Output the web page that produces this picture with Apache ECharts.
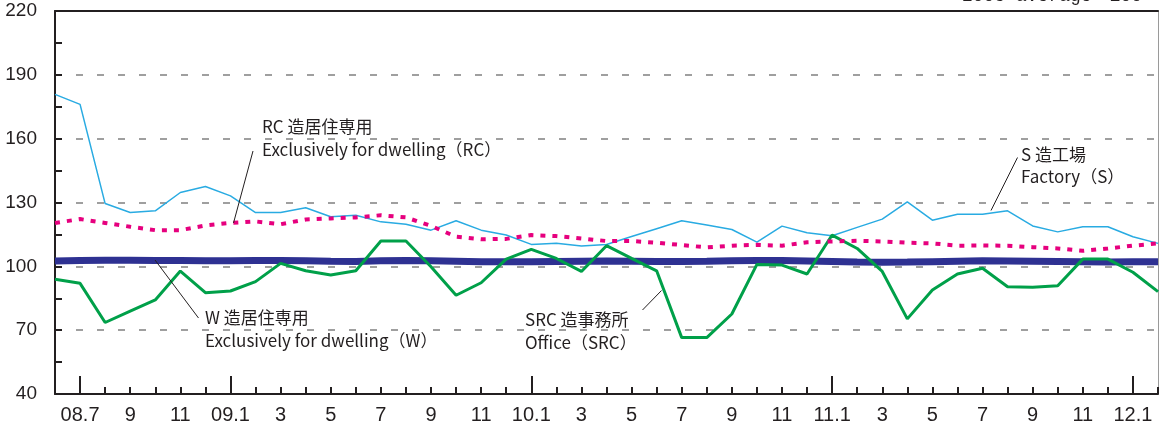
<!DOCTYPE html>
<html>
<head>
<meta charset="utf-8">
<script src="https://cdn.jsdelivr.net/npm/echarts@6/dist/echarts.min.js"></script>
<style>
html,body{margin:0;padding:0;background:#fff;}
#chart{width:1159px;height:429px;}
</style>
</head>
<body>
<div id="chart"></div>
<script>
// Month categories (first and last points sit on the plot borders)
const categories = ['08.6','08.7','8','9','10','11','12','09.1','2','3','4','5','6','7','8','9','10','11','12','10.1','2','3','4','5','6','7','8','9','10','11','12','11.1','2','3','4','5','6','7','8','9','10','11','12','12.1','2'];

// S 造工場 Factory (S)
const factoryS = [180.8,176.1,129.5,125.3,126.1,134.7,137.5,133.1,125.3,125.3,127.5,123.3,124.0,120.9,119.8,117.0,121.4,117.0,114.7,110.3,110.9,109.5,110.3,114.0,117.7,121.4,119.4,117.3,111.4,118.9,115.8,114.4,118.3,122.2,130.3,121.7,124.5,124.5,126.1,119.0,116.2,118.6,118.6,113.9,110.8];

// RC 造居住専用 Exclusively for dwelling (RC)
const dwellingRC = [120.4,122.2,120.4,118.6,117.0,117.0,119.2,120.4,121.1,119.8,122.0,122.5,123.0,124.0,123.0,119.0,113.9,112.7,112.9,114.7,114.2,113.1,111.9,111.9,111.1,110.0,108.9,109.7,110.1,109.7,111.3,111.7,112.0,111.7,111.1,110.8,109.7,109.8,109.7,109.0,108.4,107.3,108.4,109.7,110.8];

// W 造居住専用 Exclusively for dwelling (W)
const dwellingW = [102.5,102.7,102.9,102.9,102.8,102.7,102.6,102.6,102.7,102.8,102.6,102.4,102.3,102.6,102.7,102.6,102.4,102.2,102.1,102.2,102.3,102.4,102.5,102.4,102.3,102.3,102.4,102.6,102.8,102.7,102.5,102.3,102.0,101.9,102.0,102.2,102.4,102.6,102.5,102.4,102.3,102.1,102.0,102.1,102.2];

// SRC 造事務所 Office (SRC)
const officeSRC = [93.9,92.0,73.6,79.0,84.2,97.8,87.6,88.4,92.8,101.4,97.9,95.9,97.9,111.9,111.9,99.8,86.4,92.3,103.4,108.0,103.7,97.6,109.7,103.7,97.9,66.5,66.5,77.6,100.9,100.6,96.4,114.7,108.4,97.6,75.3,88.9,96.4,99.1,90.4,90.2,90.9,103.4,103.4,97.2,88.1];

// Y axis ticks
const yMin = 40, yMax = 220, yStep = 30;

const TXT = '#231F20';
const FONT_AX = '"Liberation Sans Narrow","Liberation Sans","Noto Sans",sans-serif';
const FONT_CJK = '"Noto Sans CJK JP","Noto Sans",sans-serif';

const chart = echarts.init(document.getElementById('chart'), null, {renderer:'canvas'});

function isJan(idx, val){ return idx > 0 && String(val).indexOf('.') >= 0; }

const option = {
  animation: false,
  backgroundColor: '#fff',
  grid: {left: 55, right: 1, top: 11, bottom: 35, show: false},
  xAxis: [
    {
      type: 'category', data: categories, boundaryGap: false, position: 'bottom',
      axisLine: {show: true, lineStyle: {color: '#231F20', width: 2}},
      axisTick: {show: true, inside: true, length: 7, interval: 0, lineStyle: {color: '#231F20', width: 2}},
      axisLabel: {
        interval: function(idx){ return idx % 2 === 1; },
        color: TXT, fontSize: 20, fontFamily: FONT_AX, margin: 11
      },
      splitLine: {show: false}
    },
    {
      type: 'category', data: categories, boundaryGap: false, position: 'bottom',
      axisLine: {show: false},
      axisTick: {show: true, inside: true, length: 18, interval: isJan, lineStyle: {color: '#231F20', width: 2}},
      axisLabel: {show: false},
      splitLine: {show: false}
    },
    {
      type: 'category', data: categories, boundaryGap: false, position: 'top',
      axisLine: {show: true, lineStyle: {color: '#231F20', width: 2}},
      axisTick: {show: false}, axisLabel: {show: false}, splitLine: {show: false}
    }
  ],
  yAxis: [
    {
      type: 'value', min: yMin, max: yMax, interval: yStep, position: 'left',
      axisLine: {show: true, lineStyle: {color: '#231F20', width: 2}},
      axisTick: {show: true, inside: true, length: 7, lineStyle: {color: '#231F20', width: 2}},
      minorTick: {show: true, splitNumber: 2, length: 7, lineStyle: {color: '#231F20', width: 2}},
      axisLabel: {color: TXT, fontSize: 19, fontFamily: FONT_AX, margin: 18},
      splitLine: {show: true, lineStyle: {color: '#808080', width: 1.6, type: [7, 14]}}
    },
    {
      type: 'value', min: yMin, max: yMax, interval: yStep, position: 'right',
      axisLine: {show: true, lineStyle: {color: '#9a9a9a', width: 1}},
      axisTick: {show: false}, axisLabel: {show: false}, splitLine: {show: false}
    }
  ],
  series: [
    {
      name: 'W 造居住専用', type: 'line', data: dwellingW, symbol: 'none', z: 2,
      lineStyle: {color: '#2E3192', width: 7}
    },
    {
      name: 'S 造工場', type: 'line', data: factoryS, symbol: 'none', z: 3,
      lineStyle: {color: '#29ABE2', width: 1.5}
    },
    {
      name: 'SRC 造事務所', type: 'line', data: officeSRC, symbol: 'none', z: 4,
      lineStyle: {color: '#00A049', width: 3}
    },
    {
      name: 'RC 造居住専用', type: 'line', data: dwellingRC, symbol: 'none', z: 5,
      lineStyle: {color: '#E6007E', width: 4, type: [5, 7]}
    }
  ],
  graphic: [
    {type: 'text', x: 1142, y: 5, z: 10, style: {text: '2005 average＝100', align: 'right', verticalAlign: 'bottom', font: '18px "Liberation Mono", monospace', fill: TXT}},
    // RC annotation
    {type: 'text', x: 262, y: 127, z: 10, style: {text: 'RC 造居住専用', verticalAlign: 'middle', font: '17px ' + FONT_CJK, fill: TXT}},
    {type: 'text', x: 262, y: 150, z: 10, style: {text: 'Exclusively for dwelling（RC）', verticalAlign: 'middle', font: '17px ' + FONT_CJK, fill: TXT}},
    {type: 'line', z: 10, shape: {x1: 253, y1: 151, x2: 233.5, y2: 223}, style: {stroke: TXT, lineWidth: 1}},
    // W annotation
    {type: 'text', x: 205, y: 318, z: 10, style: {text: 'W 造居住専用', verticalAlign: 'middle', font: '17px ' + FONT_CJK, fill: TXT}},
    {type: 'text', x: 205, y: 341, z: 10, style: {text: 'Exclusively for dwelling（W）', verticalAlign: 'middle', font: '17px ' + FONT_CJK, fill: TXT}},
    {type: 'line', z: 10, shape: {x1: 155, y1: 260, x2: 198.5, y2: 318}, style: {stroke: TXT, lineWidth: 1}},
    // SRC annotation
    {type: 'text', x: 525, y: 320, z: 10, style: {text: 'SRC 造事務所', verticalAlign: 'middle', font: '17px ' + FONT_CJK, fill: TXT}},
    {type: 'text', x: 525, y: 343, z: 10, style: {text: 'Office（SRC）', verticalAlign: 'middle', font: '17px ' + FONT_CJK, fill: TXT}},
    {type: 'line', z: 10, shape: {x1: 642.5, y1: 310, x2: 661.5, y2: 290.5}, style: {stroke: TXT, lineWidth: 1}},
    // S annotation
    {type: 'text', x: 1021, y: 155, z: 10, style: {text: 'S 造工場', verticalAlign: 'middle', font: '17px ' + FONT_CJK, fill: TXT}},
    {type: 'text', x: 1021, y: 177, z: 10, style: {text: 'Factory（S）', verticalAlign: 'middle', font: '17px ' + FONT_CJK, fill: TXT}},
    {type: 'line', z: 10, shape: {x1: 1017.5, y1: 157.5, x2: 991, y2: 210.5}, style: {stroke: TXT, lineWidth: 1}}
  ]
};

chart.setOption(option);
</script>
</body>
</html>
